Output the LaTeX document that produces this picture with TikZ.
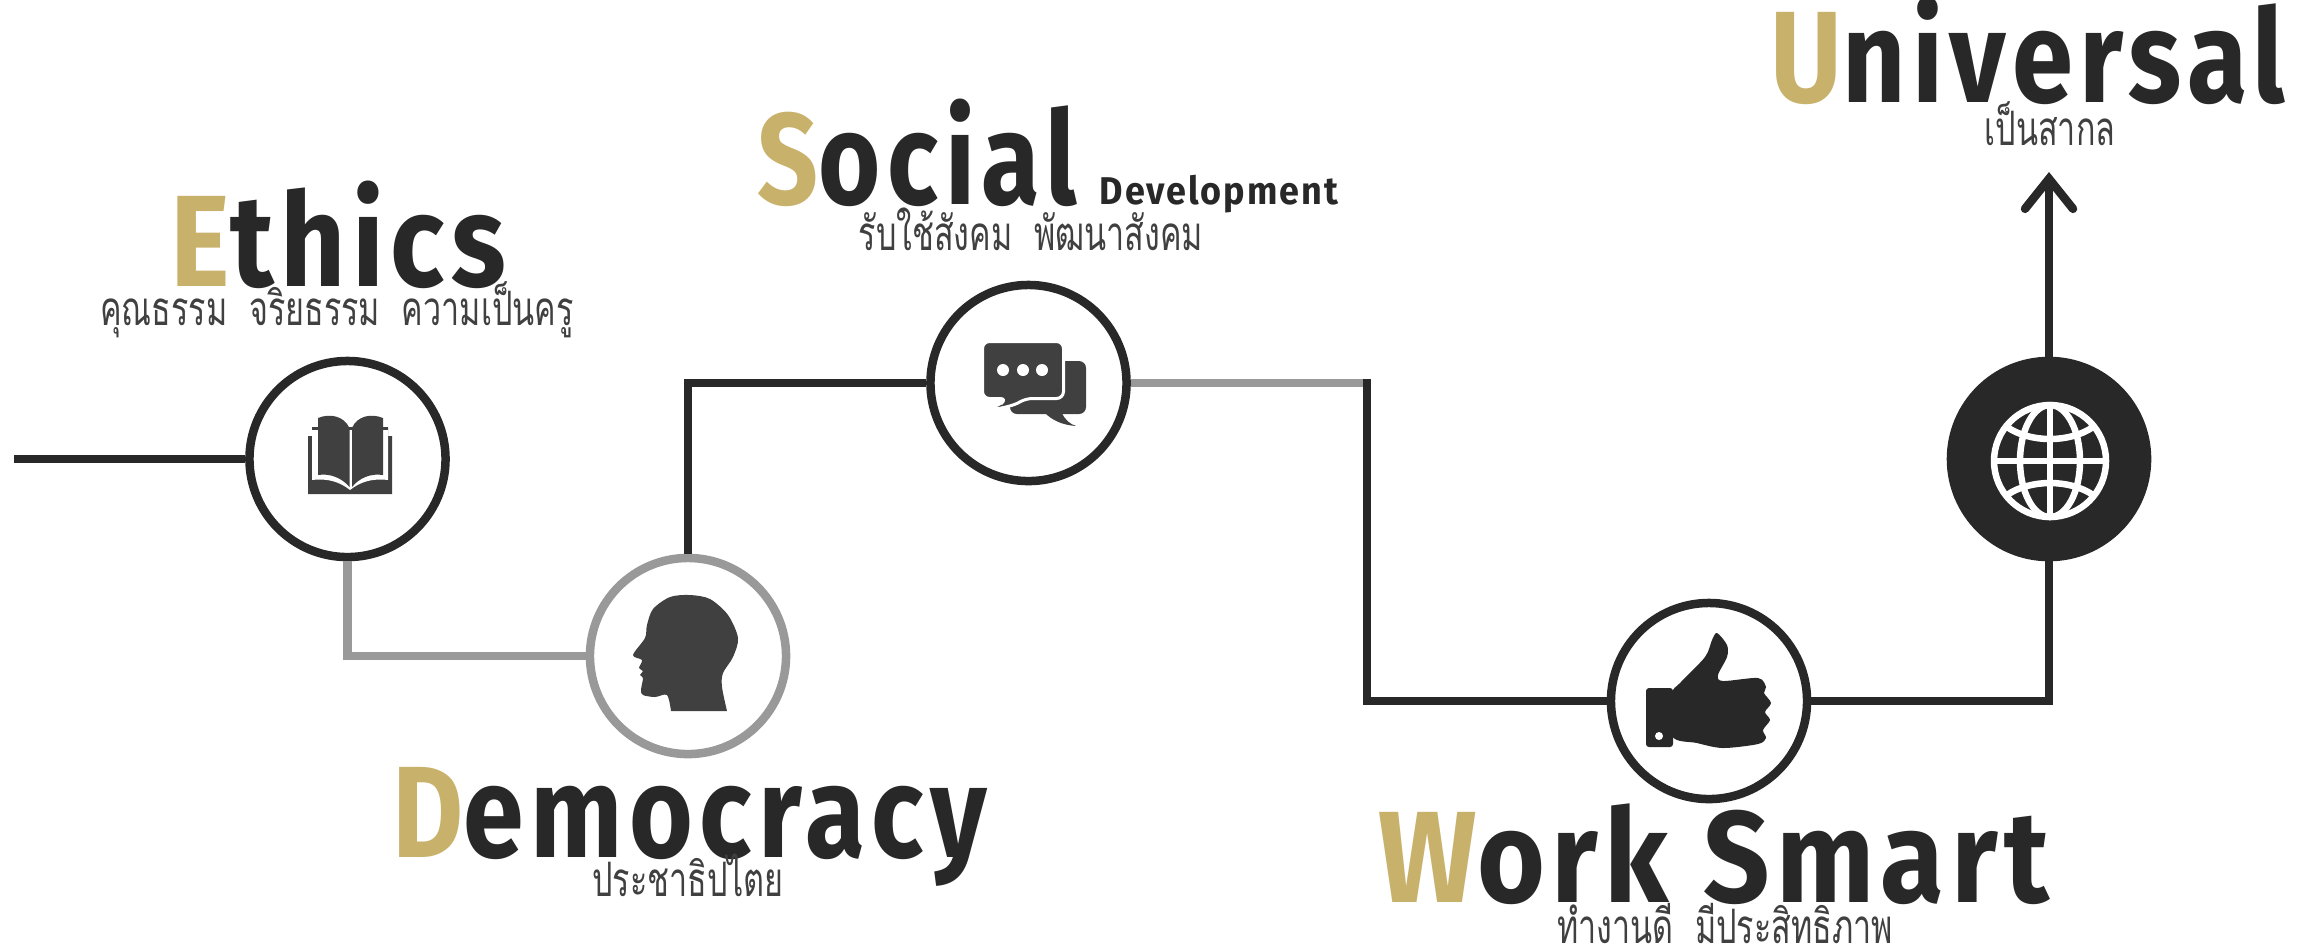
\documentclass[tikz,border=0pt]{standalone}
\usepackage{fontspec}
\usetikzlibrary{arrows.meta,positioning}
\newfontfamily\thaifont[Script=Thai,FakeStretch=0.68]{Loma}
\newfontfamily\headfont[LetterSpace=5]{Fira Sans}
\newcommand{\squeeze}[1]{\addfontfeature{FakeStretch=#1}}
\definecolor{mldark}{RGB}{40,40,40}
\definecolor{mlgray}{RGB}{153,153,153}
\definecolor{mlgold}{RGB}{200,178,107}
\definecolor{mlicon}{RGB}{64,64,64}

\begin{document}
\begin{tikzpicture}[x=0.01cm, y=-0.01cm,
  stepnode/.style={circle, draw=mldark, fill=white, line width=0.085cm, minimum size=1.96cm, inner sep=0pt},
  darkline/.style={draw=mldark, line width=0.085cm},
  grayline/.style={draw=mlgray, line width=0.085cm},
  titlenode/.style={anchor=base west, inner sep=0pt, text=mldark, font=\headfont\bfseries\fontsize{37}{37}\selectfont},
  subnode/.style={anchor=base, inner sep=0pt, text=mlicon, font=\thaifont\fontsize{13.5}{13.5}\selectfont},
  globeline/.style={draw=white, line width=0.065cm}]
\useasboundingbox (0,0) rectangle (2318,950);
% Steps
\node[stepnode] (eth) at (347.5,459) {};
\node[stepnode, draw=mlgray] (dem) at (688,656) {};
\node[stepnode] (soc) at (1028.5,383) {};
\node[stepnode] (wrk) at (1709,701) {};
\node[stepnode, fill=mldark] (uni) at (2049,459) {};
% Free ends
\coordinate (start) at (14,459);
\coordinate (bend) at (1367,383);
\coordinate (tip) at (2049,172);
% Connectors
\draw[darkline] (start) -- (eth);
\draw[grayline] (eth.south) |- (dem.west);
\draw[darkline] (dem.north) |- (soc.west);
\draw[grayline] (soc.east) -- (bend);
\draw[darkline, line cap=rect] (bend) |- (wrk.west);
\draw[darkline] (wrk.east) -| (uni.south);
\draw[darkline, -{Straight Barb[length=3mm,width=4.8mm,line cap=round]}] (uni.north) -- (tip);
% Titles
\node[titlenode] (ethtitle) at (170,286) {\squeeze{0.87}{\color{mlgold}E}thics};
\node[titlenode] (soctitle) at (757,204) {\squeeze{0.82}{\color{mlgold}S}ocial};
\node[titlenode, font=\headfont\bfseries\fontsize{11}{11}\selectfont] (socmore) at (1099,204) {\squeeze{0.93}Development};
\node[titlenode] (demtitle) at (392,857) {\squeeze{0.84}{\color{mlgold}D}emocracy};
\node[titlenode] (wrktitle) at (1378,902) {\squeeze{0.894}{\color{mlgold}W}ork Smart};
\node[titlenode] (unititle) at (1770,102) {\squeeze{0.846}{\color{mlgold}U}niversal};
% Thai lines
\node[subnode] (ethsub) at (337,325) {คุณธรรม\ \ จริยธรรม\ \ ความเป็นครู};
\node[subnode] (socsub) at (1031,250) {รับใช้สังคม\ \ พัฒนาสังคม};
\node[subnode] (demsub) at (688,896) {ประชาธิปไตย};
\node[subnode] (wrksub) at (1725,943) {ทำงานดี\ \ มีประสิทธิภาพ};
\node[subnode] (unisub) at (2050,145) {เป็นสากล};
% Icon: book
\fill[mlicon] (308,436) -- (312,436) -- (312,427) -- (388,427) -- (388,436) -- (392,436) -- (392,494) -- (308,494) -- cycle;
\fill[white] (312,430) -- (388,430) -- (388,480) .. controls (372,478) and (360,482) .. (350,490) .. controls (340,482) and (328,478) .. (312,480) -- cycle;
\fill[mlicon] (318,418) .. controls (330,413) and (344,416) .. (349.5,428) -- (349.5,487) .. controls (342,478) and (330,473) .. (318,475) -- cycle;
\fill[mlicon] (383,418) .. controls (371,413) and (357,416) .. (352,428) -- (352,487) .. controls (359,478) and (371,473) .. (383,475) -- cycle;
% Icon: head
\fill[mlicon] plot[smooth, tension=0.5] coordinates {(671,711) (667,695) (655,697) (643,695) (641,690) (643,678) (640,675) (643,671) (639,668) (642,660) (633,655) (645,638) (647,625) (653,609) (670,597) (690,595) (710,599) (728,615) (738,638) (733,657) (723,673) (722,687) (727,711)} -- cycle;
% Icon: chat
\fill[mlicon, rounded corners=0.07cm] (1010,361) -- (1086,361) -- (1086,414) -- (1062,414) -- (1010,414) -- cycle;
\fill[mlicon] (1045,413) .. controls (1052,420) and (1062,425) .. (1076,426) .. controls (1070,424) and (1065,420) .. (1062,413) -- cycle;
\path[fill=mlicon, draw=white, line width=0.03cm, rounded corners=0.07cm] (982.5,341.5) -- (1063.5,341.5) -- (1063.5,398.5) -- (1025,398.5) .. controls (1015,405) and (1000,409) .. (986,409) .. controls (996,406) and (1003,402) .. (1007,398.5) -- (982.5,398.5) -- cycle;
\fill[white] (1003,370) circle [radius=6];
\fill[white] (1023,370) circle [radius=6];
\fill[white] (1042,370) circle [radius=6];
% Icon: thumb
\fill[mldark, rounded corners=0.03cm] (1646,688) -- (1673,688) -- (1673,747) -- (1646,747) -- cycle;
\fill[mldark] plot[smooth cycle, tension=0.5] coordinates {(1672,694) (1680,683) (1705,657) (1712,640) (1717,633) (1727,645) (1727,657) (1718,675) (1723,681) (1758,678) (1766,687) (1764,693) (1771,703) (1765,712) (1770,720) (1763,730) (1766,738) (1758,744) (1723,748) (1697,743) (1672,736)};
\fill[white] (1659,736) circle [radius=4];
% Icon: globe
\draw[globeline] (2050,461) circle [radius=56];
\draw[globeline] (2050,461) ellipse [x radius=30, y radius=56];
\draw[globeline] (2050,405) -- (2050,517);
\draw[globeline] (1994,461) -- (2106,461);
\draw[globeline] (2007,427) .. controls (2030,443) and (2070,443) .. (2093,427);
\draw[globeline] (2007,495) .. controls (2030,479) and (2070,479) .. (2093,495);
\end{tikzpicture}
\end{document}
